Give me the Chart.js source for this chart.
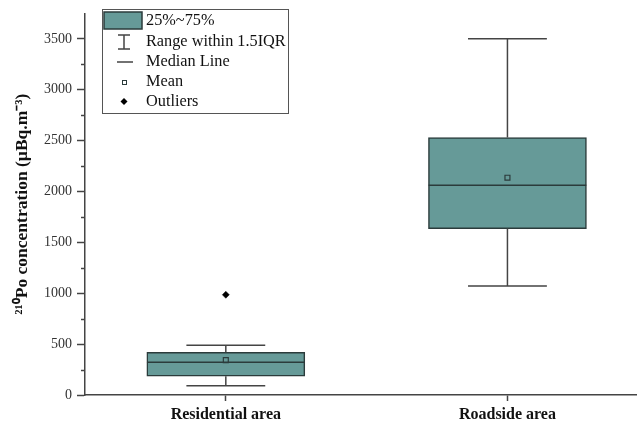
<!DOCTYPE html>
<html>
<head>
<meta charset="utf-8">
<script src="https://cdn.jsdelivr.net/npm/chart.js@4.4.1/dist/chart.umd.min.js"></script>
<style>
  html, body { margin: 0; padding: 0; background: #fff; }
  #wrap { width: 637px; height: 429px; }
</style>
</head>
<body>
<div id="wrap"><canvas id="chart"></canvas></div>
<script>
// box plot statistics
const categories = ["Residential area", "Roadside area"];
const minVals = [90, 1070];
const q1Vals = [185, 1635];
const medianVals = [322, 2060];
const q3Vals = [420, 2530];
const maxVals = [490, 3500];
const meanVals = [342, 2135];
const outlierVals = [[985], []];
const yTicks = [0, 500, 1000, 1500, 2000, 2500, 3000, 3500];
const yMinorTicks = [250, 750, 1250, 1750, 2250, 2750, 3250];

const boxFill = "#669a98";
const boxEdge = "#2b3b3b";
const lineCol = "#444";
const boxHalf = 0.28;
const capHalf = 0.14;

// whiskers + caps as one line dataset, segments split by null
const whiskerPts = [];
const medianPts = [];
categories.forEach((c, i) => {
  const x = i + 1;
  whiskerPts.push(
    { x: x - capHalf, y: maxVals[i] }, { x: x + capHalf, y: maxVals[i] }, { x: x, y: null },
    { x: x, y: maxVals[i] }, { x: x, y: q3Vals[i] }, { x: x, y: null },
    { x: x, y: q1Vals[i] }, { x: x, y: minVals[i] }, { x: x, y: null },
    { x: x - capHalf, y: minVals[i] }, { x: x + capHalf, y: minVals[i] }, { x: x, y: null }
  );
  medianPts.push({ x: x - boxHalf, y: medianVals[i] }, { x: x + boxHalf, y: medianVals[i] }, { x: x, y: null });
});
const meanPts = meanVals.map((v, i) => ({ x: i + 1, y: v }));
const outlierPts = [];
outlierVals.forEach((arr, i) => arr.forEach(v => outlierPts.push({ x: i + 1, y: v })));

// short minor ticks on the y axis
const minorTicks = {
  id: "minorTicks",
  afterDraw(chart) {
    const ctx = chart.ctx, y = chart.scales.y, left = chart.chartArea.left;
    ctx.save();
    ctx.strokeStyle = lineCol;
    ctx.lineWidth = 1.5;
    yMinorTicks.forEach(v => {
      const py = Math.round(y.getPixelForValue(v)) + 0.5;
      ctx.beginPath();
      ctx.moveTo(left - 4, py);
      ctx.lineTo(left, py);
      ctx.stroke();
    });
    ctx.restore();
  }
};

// Origin-style legend box
const boxLegend = {
  id: "boxLegend",
  afterDraw(chart) {
    const ctx = chart.ctx;
    const x0 = 102, y0 = 9;
    ctx.save();
    ctx.strokeStyle = "#555";
    ctx.lineWidth = 1;
    ctx.strokeRect(x0 + 0.5, y0 + 0.5, 186, 104);

    ctx.fillStyle = boxFill;
    ctx.fillRect(x0 + 2, y0 + 3, 38, 17);
    ctx.strokeStyle = boxEdge;
    ctx.lineWidth = 1.5;
    ctx.strokeRect(x0 + 2, y0 + 3, 38, 17);

    ctx.strokeStyle = lineCol;
    ctx.lineWidth = 1.5;
    const cx = x0 + 22;
    ctx.beginPath();
    ctx.moveTo(cx, y0 + 26); ctx.lineTo(cx, y0 + 40);
    ctx.moveTo(cx - 6, y0 + 26); ctx.lineTo(cx + 6, y0 + 26);
    ctx.moveTo(cx - 6, y0 + 40); ctx.lineTo(cx + 6, y0 + 40);
    ctx.moveTo(cx - 7, y0 + 53); ctx.lineTo(cx + 9, y0 + 53);
    ctx.stroke();

    ctx.lineWidth = 1;
    ctx.strokeStyle = boxEdge;
    ctx.strokeRect(cx - 1.5, y0 + 71.5, 4, 4);

    ctx.fillStyle = "#000";
    ctx.beginPath();
    ctx.moveTo(cx, y0 + 89); ctx.lineTo(cx + 3.5, y0 + 92.5);
    ctx.lineTo(cx, y0 + 96); ctx.lineTo(cx - 3.5, y0 + 92.5);
    ctx.closePath(); ctx.fill();

    ctx.fillStyle = "#111";
    ctx.font = "16.3px 'Liberation Serif'";
    ctx.textBaseline = "middle";
    const labels = ["25%~75%", "Range within 1.5IQR", "Median Line", "Mean", "Outliers"];
    labels.forEach((t, i) => ctx.fillText(t, x0 + 44, y0 + 12 + i * 20.3));
    ctx.restore();
  }
};

new Chart(document.getElementById("chart"), {
  type: "bar",
  data: {
    datasets: [
      {
        type: "line", data: medianPts, order: 0,
        borderColor: boxEdge, borderWidth: 1.5, pointRadius: 0, spanGaps: false
      },
      {
        type: "scatter", data: meanPts, order: 0,
        pointStyle: "rect", pointRadius: 3.5, borderWidth: 1.2,
        borderColor: boxEdge, backgroundColor: "rgba(0,0,0,0)"
      },
      {
        type: "scatter", data: outlierPts, order: 0,
        pointStyle: "rectRot", pointRadius: 3.5, borderWidth: 0.5,
        borderColor: "#000", backgroundColor: "#000"
      },
      {
        type: "line", data: whiskerPts, order: 1,
        borderColor: lineCol, borderWidth: 1.5, pointRadius: 0, spanGaps: false
      },
      {
        type: "bar", order: 2,
        data: q1Vals.map((v, i) => ({ x: i + 1, y: [v, q3Vals[i]] })),
        backgroundColor: boxFill, borderColor: boxEdge, borderWidth: 1.5,
        borderSkipped: false, barThickness: 158
      }
    ]
  },
  options: {
    responsive: true,
    maintainAspectRatio: false,
    animation: false,
    layout: { autoPadding: false, padding: { top: 10, right: 0, left: 0, bottom: 0 } },
    plugins: { legend: { display: false }, tooltip: { enabled: false } },
    scales: {
      x: {
        type: "linear", position: "bottom", min: 0.5, max: 2.46, offset: false,
        afterBuildTicks: s => { s.ticks = categories.map((c, i) => ({ value: i + 1 })); },
        afterFit: s => { s.height = 34; },
        ticks: {
          callback: v => categories[v - 1],
          font: { family: "Liberation Serif", size: 16, weight: "bold" },
          color: "#111", padding: 4, maxRotation: 0
        },
        grid: { offset: false, drawOnChartArea: false, tickLength: 6, tickColor: lineCol, tickWidth: 1.5 },
        border: { color: lineCol, width: 1.5 }
      },
      y: {
        min: 0, max: 3750,
        afterBuildTicks: s => { s.ticks = yTicks.map(v => ({ value: v })); },
        afterFit: s => { s.width = 85; },
        ticks: {
          callback: v => String(v),
          font: { family: "Liberation Serif", size: 14 },
          color: "#333", padding: 5
        },
        grid: { drawOnChartArea: false, tickLength: 8, tickColor: lineCol, tickWidth: 1.5 },
        border: { color: lineCol, width: 1.5 },
        title: {
          display: true,
          text: "²¹⁰Po concentration (µBq.m⁻³)",
          font: { family: "Liberation Serif", size: 17.5, weight: "bold" },
          color: "#111",
          padding: { top: 12, bottom: 0 }
        }
      }
    }
  },
  plugins: [minorTicks, boxLegend]
});
</script>
</body>
</html>
